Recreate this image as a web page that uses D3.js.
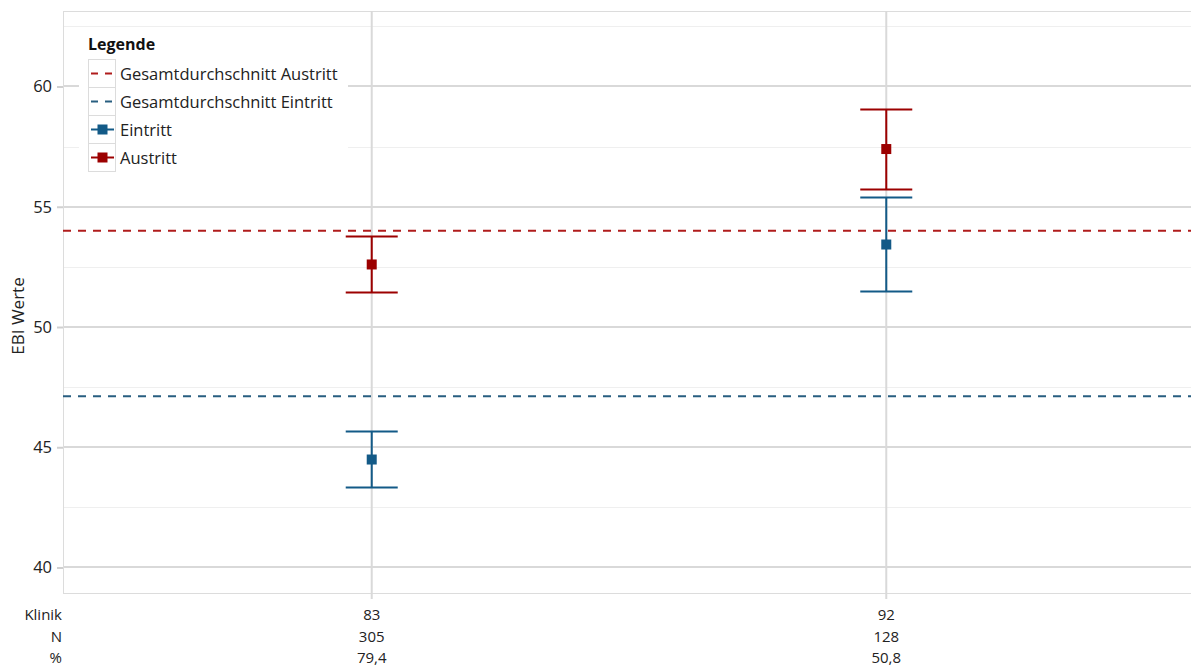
<!DOCTYPE html>
<html><head><meta charset="utf-8">
<script src="https://cdn.jsdelivr.net/npm/d3@7"></script>
<style>body{margin:0;background:#fff;}svg{display:block;font-family:"Open Sans",sans-serif;}</style>
</head><body><svg id="c" width="1191" height="671"></svg>
<script>
const kliniken = ["83", "92"];
const nValues = ["305", "128"];
const pctValues = ["79,4", "50,8"];
const eintrittMean = [44.49, 53.43];
const eintrittLow = [43.33, 51.48];
const eintrittHigh = [45.65, 55.38];
const austrittMean = [52.60, 57.40];
const austrittLow = [51.43, 55.72];
const austrittHigh = [53.76, 59.04];
const avgAustritt = 54.0;
const avgEintritt = 47.12;
const yTicks = [40, 45, 50, 55, 60];
const yMinor = [42.5, 47.5, 52.5, 57.5, 62.5];
const legendItems = ["Gesamtdurchschnitt Austritt", "Gesamtdurchschnitt Eintritt", "Eintritt", "Austritt"];

const RED = "#9c0000", BLUE = "#135a87", RED_D = "#b01c1c", BLUE_D = "#285e80";
const svg = d3.select("#c");
const L = 63, R = 1195, T = 11, B = 593;
const y = d3.scaleLinear().domain([40, 60]).range([567.5, 86.5]);
const yTop = y.invert(T), yBot = y.invert(B);
y.domain([yBot, yTop]).range([B, T]);
const x = d3.scalePoint().domain(kliniken).range([L, R]).padding(0.6);

const g = svg.append("g");
g.selectAll(".mn").data(yMinor).join("line")
  .attr("x1", L).attr("x2", R).attr("y1", d => Math.round(y(d)) + 0.5).attr("y2", d => Math.round(y(d)) + 0.5)
  .attr("stroke", "#efefef").attr("stroke-width", 1);
g.selectAll(".mj").data(yTicks).join("line")
  .attr("x1", L).attr("x2", R).attr("y1", d => Math.round(y(d))).attr("y2", d => Math.round(y(d)))
  .attr("stroke", "#d9d9d9").attr("stroke-width", 2);
g.append("line").attr("x1", L).attr("x2", R).attr("y1", T + 0.5).attr("y2", T + 0.5).attr("stroke", "#dcdcdc");
g.append("line").attr("x1", L + 0.5).attr("x2", L + 0.5).attr("y1", T).attr("y2", B).attr("stroke", "#dcdcdc");
g.append("line").attr("x1", L).attr("x2", R).attr("y1", B + 0.5).attr("y2", B + 0.5).attr("stroke", "#dcdcdc");
g.selectAll(".vg").data(kliniken).join("line")
  .attr("x1", d => x(d)).attr("x2", d => x(d)).attr("y1", T).attr("y2", 599)
  .attr("stroke", "#d9d9d9").attr("stroke-width", 2);

const ya = svg.append("g").attr("transform", `translate(${L},0)`)
  .call(d3.axisLeft(y).tickValues(yTicks).tickSize(6).tickPadding(5));
ya.select(".domain").remove();
ya.selectAll(".tick line").attr("stroke", "#d0d0d0").attr("stroke-width", 2);
ya.selectAll(".tick text").attr("font-family", "Open Sans").attr("font-size", 16.5).attr("fill", "#222");
svg.append("text").attr("transform", `translate(24,316) rotate(-90)`)
  .attr("text-anchor", "middle").attr("font-size", 17).attr("fill", "#222").text("EBI Werte");

[[avgAustritt, RED_D], [avgEintritt, BLUE_D]].forEach(([v, c]) => {
  svg.append("line").attr("x1", L).attr("x2", R).attr("y1", y(v)).attr("y2", y(v))
    .attr("stroke", c).attr("stroke-width", 2).attr("stroke-dasharray", "8,7");
});

function series(mean, lo, hi, color) {
  const s = svg.append("g");
  kliniken.forEach((k, i) => {
    const cx = x(k);
    s.append("line").attr("x1", cx).attr("x2", cx).attr("y1", y(lo[i])).attr("y2", y(hi[i])).attr("stroke", color).attr("stroke-width", 2);
    [lo[i], hi[i]].forEach(v => s.append("line").attr("x1", cx - 26).attr("x2", cx + 26).attr("y1", y(v)).attr("y2", y(v)).attr("stroke", color).attr("stroke-width", 2));
    s.append("rect").attr("x", cx - 5).attr("y", y(mean[i]) - 5).attr("width", 10).attr("height", 10).attr("fill", color);
  });
}
series(eintrittMean, eintrittLow, eintrittHigh, BLUE);
series(austrittMean, austrittLow, austrittHigh, RED);

const lg = svg.append("g");
lg.append("rect").attr("x", 79).attr("y", 28).attr("width", 269).attr("height", 148).attr("fill", "#fff");
lg.append("text").attr("x", 88).attr("y", 50).attr("font-weight", "bold").attr("font-size", 16).attr("fill", "#111").text("Legende");
legendItems.forEach((t, i) => {
  const ry = 59 + i * 28;
  lg.append("rect").attr("x", 88.5).attr("y", ry + 0.5).attr("width", 27).attr("height", 28).attr("fill", "#fff").attr("stroke", "#dcdcdc");
  const cy = ry + 14.5;
  if (i < 2) {
    const c = i === 0 ? RED_D : BLUE_D;
    lg.append("line").attr("x1", 91).attr("x2", 114).attr("y1", cy).attr("y2", cy).attr("stroke", c).attr("stroke-width", 2).attr("stroke-dasharray", "7,7");
  } else {
    const c = i === 2 ? BLUE : RED;
    lg.append("line").attr("x1", 91).attr("x2", 114).attr("y1", cy).attr("y2", cy).attr("stroke", c).attr("stroke-width", 2);
    lg.append("rect").attr("x", 97.5).attr("y", cy - 5).attr("width", 10).attr("height", 10).attr("fill", c);
  }
  lg.append("text").attr("x", 120).attr("y", cy + 6).attr("font-size", 16.5).attr("fill", "#222").text(t);
});

const rows = [["Klinik", kliniken], ["N", nValues], ["%", pctValues]];
rows.forEach(([lab, vals], r) => {
  const ty = 620 + r * 21.5;
  svg.append("text").attr("x", 62).attr("y", ty).attr("text-anchor", "end").attr("font-size", 15).attr("fill", "#222").text(lab);
  vals.forEach((v, i) => svg.append("text").attr("x", x(kliniken[i])).attr("y", ty).attr("text-anchor", "middle").attr("font-size", 15).attr("fill", "#222").text(v));
});
</script></body></html>
